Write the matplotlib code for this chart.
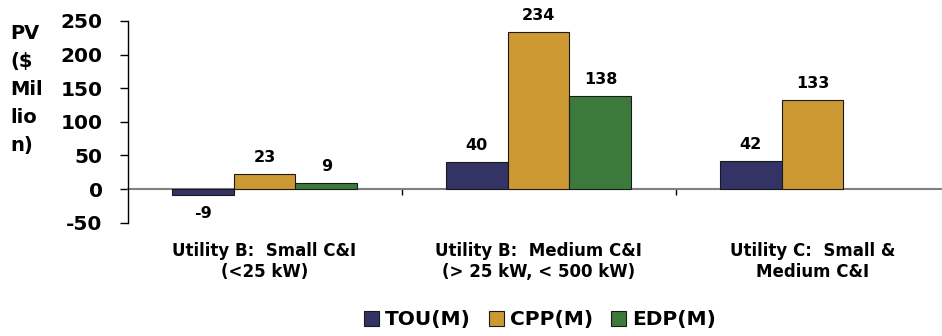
import numpy as np
import matplotlib
matplotlib.use("Agg")
import matplotlib.pyplot as plt
from matplotlib.patches import Patch

# Present value of each rate design, $ million
categories = ["Utility B:  Small C&I\n(<25 kW)",
              "Utility B:  Medium C&I\n(> 25 kW, < 500 kW)",
              "Utility C:  Small &\nMedium C&I"]
series_names = ["TOU(M)", "CPP(M)", "EDP(M)"]
tou = [-9, 40, 42]
cpp = [23, 234, 133]
edp = [9, 138, np.nan]
y_ticks = [-50, 0, 50, 100, 150, 200, 250]

colors = ["#333366", "#CC9933", "#3C7A3C"]
edge = "#1a1a1a"
FONT = "DejaVu Sans"

plt.rcParams["font.family"] = FONT
plt.rcParams["font.weight"] = "bold"

fig = plt.figure(figsize=(9.42, 3.36), dpi=100)
ax = fig.add_axes([127.5 / 942, 1 - 222.7 / 336, 822 / 942, (222.7 - 21) / 336])

x = np.arange(len(categories))
w = 0.226
for i, (vals, name, c) in enumerate(zip([tou, cpp, edp], series_names, colors)):
    xs = x + (i - 1) * w
    ax.bar(xs, vals, width=w, color=c, edgecolor=edge, linewidth=0.8,
           label=name, zorder=3)
    for xi, v in zip(xs, vals):
        if np.isnan(v):
            continue
        if v >= 0:
            ax.annotate(f"{v:g}", (xi, v), xytext=(0, 8.5), textcoords="offset points",
                        ha="center", va="baseline", fontsize=11.5, fontweight="bold")
        else:
            ax.annotate(f"{v:g}", (xi, v), xytext=(0, -8), textcoords="offset points",
                        ha="center", va="top", fontsize=11.5, fontweight="bold")

ax.set_xlim(-0.5, 2.5)
ax.set_ylim(-50, 250)
ax.tick_params(axis="y", direction="out", length=6, width=1, pad=12, color="black",
               labelsize=14.5)
ax.set_yticks(y_ticks)
ax.set_yticklabels([str(t) for t in y_ticks], fontweight="bold")

# category boundaries as major ticks, names on minor ticks at the centres
ax.tick_params(axis="x", which="major", direction="out", length=4, width=1,
               color="black")
ax.tick_params(axis="x", which="minor", length=0, pad=38, labelsize=12)
ax.set_xticks([0.5, 1.5])
ax.set_xticklabels([])
ax.set_xticks(x, minor=True)
ax.set_xticklabels(categories, minor=True, fontweight="bold")
for lbl in ax.get_xticklabels(minor=True):
    lbl.set_linespacing(1.55)

for s in ("top", "right"):
    ax.spines[s].set_visible(False)
ax.spines["bottom"].set_position(("data", 0))
ax.spines["bottom"].set_color("#808080")
ax.spines["bottom"].set_linewidth(1.5)
ax.spines["bottom"].set_zorder(2)
ax.spines["left"].set_color("black")
ax.spines["left"].set_linewidth(1)

fig.text(10 / 942, 1 - 24 / 336, "PV\n($\nMil\nlio\nn)", ha="left", va="top",
         fontsize=14, fontweight="bold", linespacing=1.6)

handles = [Patch(facecolor=c, edgecolor=edge, linewidth=0.8) for c in colors]
fig.legend(handles, series_names, loc="center", bbox_to_anchor=(540 / 942, 1 - 320 / 336),
           ncol=3, frameon=False, prop={"size": 14.5, "weight": "bold"},
           handlelength=0.75, handleheight=0.75, handletextpad=0.3, columnspacing=0.9,
           borderaxespad=0)

fig.savefig("out.png", dpi=100)
